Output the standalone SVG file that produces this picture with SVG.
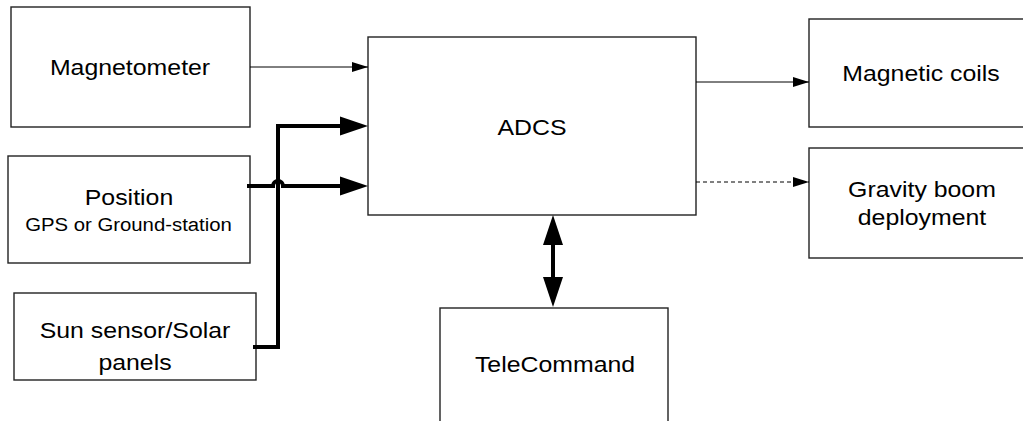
<svg xmlns="http://www.w3.org/2000/svg" width="1023" height="421" viewBox="0 0 1023 421">
<style>
.box{fill:#fff;stroke:#222;stroke-width:1.4}
.t{font-family:"Liberation Sans",Arial,sans-serif;font-size:22px;fill:#000;text-anchor:middle}
.s{font-size:18px}
.thin{stroke:#000;stroke-width:1;fill:none}
.thick{stroke:#000;stroke-width:4;fill:none}
</style>
<defs>
<marker id="ah" markerUnits="userSpaceOnUse" markerWidth="16" markerHeight="10" refX="16" refY="5" orient="auto"><path d="M0,0 L16,5 L0,10 Z" fill="#000"/></marker>
</defs>
<rect width="1023" height="421" fill="#fff"/>
<g id="magnetometer"><rect class="box" x="11" y="7" width="239" height="120"/><text class="t" transform="translate(130,75) scale(1.13,1)">Magnetometer</text></g>
<g id="position"><rect class="box" x="8" y="156" width="242" height="107"/><text class="t" transform="translate(129,205) scale(1.13,1)">Position</text><text class="t s" transform="translate(128.5,231) scale(1.13,1)">GPS or Ground-station</text></g>
<g id="sunsensor"><rect class="box" x="14" y="293" width="242" height="87"/><text class="t" transform="translate(135,338) scale(1.13,1)">Sun sensor/Solar</text><text class="t" transform="translate(135,370) scale(1.13,1)">panels</text></g>
<g id="adcs"><rect class="box" x="368" y="37" width="328" height="178"/><text class="t" transform="translate(532,135) scale(1.13,1)">ADCS</text></g>
<g id="magcoils"><rect class="box" x="809" y="19" width="226" height="108"/><text class="t" transform="translate(921,81) scale(1.13,1)">Magnetic coils</text></g>
<g id="gravity"><rect class="box" x="809" y="148" width="226" height="110"/><text class="t" transform="translate(922,197) scale(1.13,1)">Gravity boom</text><text class="t" transform="translate(922,225) scale(1.13,1)">deployment</text></g>
<g id="telecommand"><rect class="box" x="440" y="308" width="228" height="115"/><text class="t" transform="translate(555,372) scale(1.13,1)">TeleCommand</text></g>
<g id="connectors">
<line class="thin" x1="250" y1="67" x2="368" y2="67" marker-end="url(#ah)"/>
<line class="thin" x1="696" y1="82" x2="809" y2="82" marker-end="url(#ah)"/>
<line class="thin" x1="696" y1="182" x2="809" y2="182" stroke-dasharray="4,3" marker-end="url(#ah)"/>
<path class="thick" d="M253,347 H278 V126 H345"/>
<path d="M340,116.5 L368,126 L340,135.5 Z" fill="#000"/>
<path class="thick" d="M247,186 H273 A5,5 0 0 1 283,186 H345"/>
<path d="M340,176.5 L368,186 L340,195.5 Z" fill="#000"/>
<line class="thick" x1="553" y1="240" x2="553" y2="282"/>
<path d="M553,215 L563,245 L543,245 Z" fill="#000"/>
<path d="M553,307 L563,277 L543,277 Z" fill="#000"/>
</g>
</svg>
